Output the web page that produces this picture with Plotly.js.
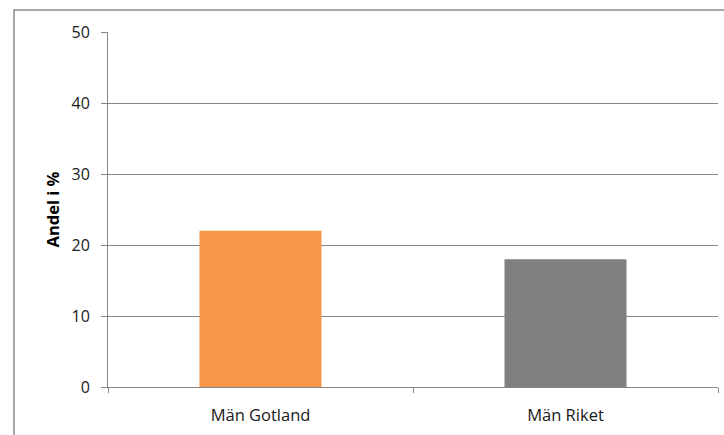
<!DOCTYPE html>
<html><head><meta charset="utf-8">
<script src="https://cdn.plot.ly/plotly-3.0.1.min.js"></script>
<style>html,body{margin:0;padding:0;background:#fff;}#chart{width:724px;height:435px;}</style>
</head><body><div id="chart"></div>
<script>
const categories = ["Män Gotland", "Män Riket"];
const values = [22, 18];
const barColors = ["#F79646", "#7F7F7F"];
const yTicks = [0, 10, 20, 30, 40, 50];

const L = 108, R = 718, T = 32, B = 387, W = 724, H = 435;
const pw = R - L, ph = B - T;
const px = v => (v - L) / pw;
const py = v => (B - v) / ph;

const trace = {
  type: 'bar', x: categories, y: values,
  marker: {color: barColors, line: {width: 0}},
  hoverinfo: 'skip'
};
const layout = {
  width: W, height: H,
  margin: {l: L, r: W - R, t: T, b: H - B, pad: 0},
  paper_bgcolor: '#fff', plot_bgcolor: '#fff',
  font: {family: 'Open Sans, sans-serif', size: 16, color: '#000'},
  bargap: 0.6,
  showlegend: false,
  xaxis: {
    showline: true, linecolor: '#868686', linewidth: 1,
    ticks: 'outside', tickson: 'boundaries', ticklen: 5, tickcolor: '#868686',
    showgrid: false, ticklabelstandoff: 13,
    tickfont: {size: 16.5, color: '#1a1a1a'}
  },
  yaxis: {
    range: [0, 50], tickvals: yTicks, ticktext: yTicks.map(String),
    showline: true, linecolor: '#868686', linewidth: 1,
    ticks: 'outside', ticklen: 6, tickcolor: '#868686',
    showgrid: true, gridcolor: '#868686', gridwidth: 1, zeroline: false,
    ticklabelstandoff: 8,
    tickfont: {size: 16, color: '#1a1a1a'},
    title: {text: 'Andel i %', font: {size: 16.5, color: '#000', weight: 'bold'}, standoff: 7}
  },
  shapes: [{
    type: 'rect', xref: 'paper', yref: 'paper',
    x0: px(14), x1: px(740), y0: py(450), y1: py(10),
    line: {color: '#8c8c8c', width: 1.5}, fillcolor: 'rgba(0,0,0,0)', layer: 'below'
  }]
};
Plotly.newPlot('chart', [trace], layout, {staticPlot: true});
</script></body></html>
